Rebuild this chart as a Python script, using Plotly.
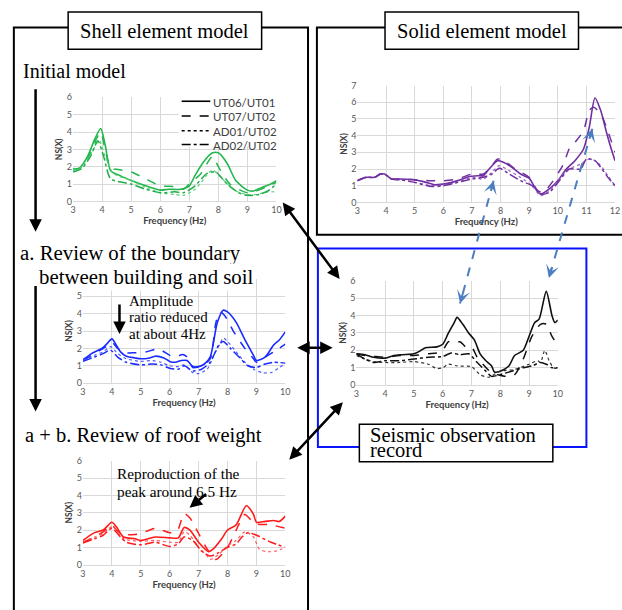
import plotly.graph_objects as go

# ---------------- data ----------------
series_names = ["UT06/UT01", "UT07/UT02", "AD01/UT02", "AD02/UT02"]

# Initial model (shell, green)
g_f1 = [3,3.2,3.5,3.75,3.95,4.1,4.3,4.6,5,5.5,6,6.3,6.7,7,7.2,7.5,7.8,8,8.3,8.6,9,9.2,9.5,9.8,10]
g_y1 = [1.9,1.9,2.6,3.6,4.2,3.3,1.75,1.5,1.2,0.9,0.65,0.7,0.7,0.9,1.5,2.3,2.8,2.8,2.2,1.2,0.65,0.6,0.8,1.0,1.2]
g_f2 = [3,3.3,3.6,3.8,3.95,4.1,4.3,4.5,5,5.5,6,6.5,6.8,7,7.4,7.8,8,8.4,9,9.3,9.6,10]
g_y2 = [1.8,2.0,2.8,3.6,4.0,3.0,1.9,1.85,1.7,1.3,0.9,0.85,0.7,1.0,1.6,2.6,2.0,1.0,0.5,0.6,0.8,1.1]
g_f3 = [3,3.3,3.6,3.9,4.1,4.4,5,5.5,6,6.5,6.8,7.2,7.6,7.8,8.2,8.6,9,9.3,9.7,10]
g_y3 = [1.8,2.0,2.7,3.5,2.6,1.6,1.2,0.8,0.5,0.4,0.35,0.7,1.5,1.8,1.2,0.6,0.4,0.4,0.55,0.55]
g_f4 = [3,3.3,3.6,3.85,4.05,4.3,5,5.5,6,6.5,6.8,7.2,7.6,7.9,8.3,8.7,9,9.4,9.7,10]
g_y4 = [1.7,1.9,2.6,3.5,2.6,1.3,1.0,0.7,0.5,0.55,0.5,0.9,1.6,1.7,1.0,0.5,0.35,0.4,0.6,1.0]

# Solid element model (purple)
p_f1 = [3,3.3,3.6,3.8,3.95,4.2,4.5,5,5.4,5.7,6,6.3,6.6,6.9,7.2,7.4,7.6,7.9,8.1,8.4,8.7,9,9.2,9.4,9.7,10,10.3,10.6,10.9,11.1,11.3,11.5,11.7,11.85,12]
p_y1 = [1.3,1.5,1.5,1.7,1.7,1.4,1.4,1.35,1.2,1.05,1.1,1.2,1.35,1.55,1.6,1.6,2.0,2.5,2.4,2.1,1.7,1.45,0.9,0.5,0.8,1.3,2.0,2.5,3.2,4.5,6.25,5.5,4.2,3.3,2.5]
p_f2 = [3,3.3,3.6,3.8,3.95,4.2,4.5,5,5.5,6,6.5,7,7.4,7.7,7.9,8.2,8.5,9,9.3,9.5,9.8,10.2,10.4,10.6,10.9,11.1,11.25,11.5,11.7,12]
p_y2 = [1.3,1.5,1.5,1.7,1.7,1.4,1.4,1.35,1.3,1.3,1.4,1.7,1.7,2.2,2.6,2.4,2.0,1.5,0.7,0.6,1.2,2.3,3.2,3.6,4.3,5.5,5.7,5.3,4.5,3.0]
p_f3 = [3,3.3,3.6,3.8,3.95,4.2,4.5,5,5.6,6,6.5,7,7.4,7.7,7.95,8.3,8.7,9.1,9.4,9.7,10.1,10.4,10.8,11.1,11.3,11.5,11.75,12]
p_y3 = [1.3,1.5,1.5,1.7,1.7,1.4,1.35,1.2,1.0,1.05,1.2,1.5,1.4,1.8,2.2,1.9,1.5,1.0,0.4,0.7,1.5,2.0,2.3,2.6,2.5,2.2,1.6,1.0]
p_f4 = [3,3.3,3.6,3.8,3.95,4.2,4.5,5,5.6,6,6.5,7,7.4,7.7,7.95,8.3,8.7,9.1,9.4,9.7,10.1,10.4,10.8,11.0,11.3,11.5,11.75,12]
p_y4 = [1.3,1.5,1.5,1.7,1.7,1.4,1.35,1.2,0.95,1.0,1.2,1.4,1.5,1.7,2.05,1.7,1.3,1.0,0.5,0.6,1.4,2.0,2.0,2.6,2.5,2.1,1.5,1.0]

# a. Review of boundary (blue)
b_f1 = [3,3.3,3.6,3.7,3.85,4.0,4.15,4.3,4.5,4.8,5.0,5.3,5.5,5.8,6.0,6.2,6.4,6.6,6.8,7.0,7.2,7.4,7.65,7.85,8.0,8.3,8.6,8.9,9.0,9.3,9.6,9.8,10]
b_y1 = [1.35,1.7,1.95,2.05,2.3,2.55,2.2,1.8,1.55,1.45,1.4,1.45,1.55,1.45,1.25,1.2,1.3,1.3,0.95,0.95,1.1,1.5,3.5,4.2,4.1,3.5,2.5,1.6,1.3,1.5,2.2,2.5,2.95]
b_f2 = [3,3.3,3.6,3.9,4.0,4.2,4.4,4.8,5.2,5.5,5.7,6.0,6.2,6.45,6.6,6.8,7.1,7.4,7.6,7.75,7.9,8.2,8.6,8.9,9.0,9.3,9.6,10]
b_y2 = [1.3,1.6,1.9,2.2,2.35,2.0,1.75,1.75,1.8,1.95,1.9,1.6,1.5,1.65,1.5,0.9,1.0,1.4,3.5,4.1,3.9,3.0,2.0,1.4,1.2,1.5,1.8,2.25]
b_f3 = [3,3.4,3.7,3.95,4.2,4.5,5.0,5.4,5.7,6.0,6.3,6.5,6.8,7.0,7.3,7.5,7.75,7.85,8.0,8.3,8.6,8.9,9.2,9.5,9.8,10]
b_y3 = [1.3,1.6,1.8,2.1,1.7,1.4,1.25,1.3,1.2,1.0,0.95,1.05,0.6,0.55,0.8,1.5,2.3,2.6,2.4,1.8,1.2,0.8,0.6,0.6,0.9,1.15]
b_f4 = [3,3.4,3.7,3.95,4.2,4.5,5.0,5.4,5.7,6.0,6.3,6.5,6.8,7.1,7.4,7.7,7.85,8.1,8.4,8.7,9.0,9.3,9.6,10]
b_y4 = [1.25,1.5,1.7,1.9,1.5,1.2,1.05,1.1,1.05,0.85,0.8,1.0,0.7,0.8,1.2,2.2,2.4,2.0,1.5,1.0,0.9,1.1,1.2,1.15]

# Seismic observation record (black)
k_f1 = [3,3.3,3.6,4.0,4.3,4.6,5.0,5.2,5.4,5.8,6.0,6.2,6.4,6.5,6.7,6.9,7.1,7.3,7.5,7.7,7.8,8.0,8.3,8.5,8.8,9.0,9.2,9.35,9.6,9.8,9.9,10]
k_y1 = [1.8,1.75,1.6,1.55,1.7,1.75,1.8,1.95,2.15,2.2,2.35,3.0,3.6,3.9,3.5,3.0,2.6,1.8,1.4,1.1,0.75,0.8,1.1,1.7,2.0,2.8,3.6,3.8,5.4,4.0,3.6,3.75]
k_f2 = [3,3.3,3.6,4.0,4.5,5.0,5.5,5.8,6.0,6.2,6.4,6.6,6.8,7.0,7.2,7.4,7.7,7.9,8.2,8.5,8.8,9.1,9.4,9.6,9.8,10]
k_y2 = [1.8,1.7,1.65,1.6,1.7,1.7,1.8,1.85,2.0,2.5,2.4,2.5,2.2,2.2,1.6,1.2,0.7,0.6,0.5,0.6,1.5,2.8,3.5,3.5,2.8,2.3]
k_f3 = [3,3.3,3.6,4.0,4.5,5.0,5.5,5.8,6.0,6.2,6.5,7.0,7.3,7.6,8.0,8.5,9.0,9.3,9.4,9.55,9.7,9.85,10]
k_y3 = [1.7,1.5,1.35,1.3,1.3,1.35,1.2,0.95,1.0,1.2,1.1,1.05,0.6,0.45,0.8,0.9,1.2,1.4,1.3,2.0,1.4,1.0,0.95]
k_f4 = [3,3.3,3.6,4.0,4.5,5.0,5.5,6.0,6.3,6.6,6.9,7.2,7.5,7.7,8.0,8.4,8.8,9.1,9.4,9.6,9.8,10]
k_y4 = [1.8,1.5,1.3,1.4,1.4,1.5,1.6,1.65,1.85,1.75,1.8,1.3,0.8,0.5,0.6,0.8,1.0,1.1,1.3,1.2,1.0,1.0]

# a + b. Review of roof weight (red)
r_f1 = [3,3.4,3.7,4.0,4.15,4.4,4.8,5.0,5.5,6.0,6.3,6.5,6.7,7.0,7.35,7.5,7.8,8.0,8.3,8.65,8.9,9.0,9.3,9.6,9.8,10]
r_y1 = [1.4,1.85,2.0,2.45,2.2,1.6,1.5,1.4,1.6,1.55,1.55,2.15,2.0,1.3,0.75,0.9,1.5,2.0,2.3,3.4,2.9,2.45,2.5,2.55,2.5,2.8]
r_f2 = [3,3.4,3.7,4.0,4.15,4.4,4.8,5.0,5.5,6.0,6.25,6.5,6.7,7.0,7.3,7.5,7.6,8.0,8.3,8.6,8.8,9.0,9.5,10]
r_y2 = [1.3,1.6,1.9,2.3,2.0,1.75,1.75,1.8,2.1,1.85,1.9,2.95,2.7,1.8,0.9,0.5,0.3,1.0,2.0,2.9,2.6,2.35,2.3,2.1]
r_f3 = [3,3.4,3.7,4.0,4.2,4.4,5.0,5.5,6.0,6.3,6.5,6.7,7.0,7.3,7.4,7.7,8.0,8.3,8.6,8.9,9.1,9.4,9.7,10]
r_y3 = [1.3,1.6,1.8,2.2,1.9,1.5,1.35,1.4,1.3,1.3,1.9,1.7,1.0,0.5,0.3,0.6,1.1,1.4,1.9,1.6,0.9,0.75,0.8,1.0]
r_f4 = [3,3.4,3.7,4.0,4.3,4.5,5.0,5.5,6.0,6.3,6.5,6.8,7.1,7.4,7.7,8.0,8.3,8.5,8.7,9.0,9.5,10]
r_y4 = [1.25,1.5,1.7,2.1,1.6,1.3,1.15,1.3,1.05,1.2,1.6,1.4,0.8,0.5,0.7,1.0,1.2,1.6,1.85,1.7,1.3,1.0]

x_ticks_10 = [3, 4, 5, 6, 7, 8, 9, 10]
x_ticks_12 = [3, 4, 5, 6, 7, 8, 9, 10, 11, 12]

# ---------------- helpers ----------------
W, H = 622, 610
def X(p): return p / W
def Y(p): return 1 - p / H

dashes = ["solid", "dash", "dot", "dashdot"]
widths = [1.6, 1.5, 1.2, 1.5]

charts = [
    dict(ax="", data=[(g_f1, g_y1), (g_f2, g_y2), (g_f3, g_y3), (g_f4, g_y4)],
         colors=["#22b74e", "#22b74e", "#55d476", "#22ad4b"],
         dom=((71, 277), (93, 199)), xr=(3, 10), yr=(0, 6), xt=x_ticks_10),
    dict(ax="2", data=[(p_f1, p_y1), (p_f2, p_y2), (p_f3, p_y3), (p_f4, p_y4)],
         colors=["#7030a0", "#7030a0", "#9a5cc8", "#7030a0"],
         dom=((359, 620), (81, 200)), xr=(3, 12), yr=(0, 7), xt=x_ticks_12),
    dict(ax="3", data=[(b_f1, b_y1), (b_f2, b_y2), (b_f3, b_y3), (b_f4, b_y4)],
         colors=["#1a2bff", "#1a2bff", "#4a5cff", "#1a2bff"],
         dom=((81, 286), (278, 384)), xr=(3, 10), yr=(0, 6), xt=x_ticks_10),
    dict(ax="4", data=[(k_f1, k_y1), (k_f2, k_y2), (k_f3, k_y3), (k_f4, k_y4)],
         colors=["#111111", "#111111", "#333333", "#111111"],
         dom=((358, 562), (280, 386)), xr=(3, 10), yr=(0, 6), xt=x_ticks_10),
    dict(ax="5", data=[(r_f1, r_y1), (r_f2, r_y2), (r_f3, r_y3), (r_f4, r_y4)],
         colors=["#ff1a1a", "#ff1a1a", "#ff5a5a", "#ff1a1a"],
         dom=((81, 286), (463, 569)), xr=(3, 10), yr=(0, 6), xt=x_ticks_10),
]

fig = go.Figure()
tick_font = dict(family="Lato, Open Sans, sans-serif", size=9, color="#595959")
title_font = dict(family="Lato, Open Sans, sans-serif", size=9.5, color="#404040")

for c in charts:
    for i, (fx, fy) in enumerate(c["data"]):
        fig.add_trace(go.Scatter(
            x=fx, y=fy, mode="lines", name=series_names[i], showlegend=False,
            line=dict(color=c["colors"][i], dash=dashes[i], width=widths[i],
                      shape="spline", smoothing=0.7),
            xaxis="x" + c["ax"], yaxis="y" + c["ax"]))
    (x0, x1), (y0, y1) = c["dom"]
    fig.update_layout(**{
        "xaxis" + c["ax"]: dict(
            domain=[X(x0), X(x1)], range=list(c["xr"]), tickvals=c["xt"],
            showgrid=True, gridcolor="#d9d9d9", gridwidth=1, zeroline=False,
            showline=True, linecolor="#d9d9d9", ticks="", tickfont=tick_font,
            title=dict(text="<b>Frequency (Hz)</b>", font=title_font, standoff=0),
            anchor="y" + c["ax"], fixedrange=True),
        "yaxis" + c["ax"]: dict(
            domain=[Y(y1), Y(y0)], range=list(c["yr"]), dtick=1,
            showgrid=True, gridcolor="#d9d9d9", gridwidth=1, zeroline=False,
            showline=False, ticks="", tickfont=tick_font,
            title=dict(text="<b>NS(X)</b>", font=dict(family=title_font["family"], size=8.5, color="#404040"), standoff=2),
            anchor="x" + c["ax"], fixedrange=True),
    })

shapes = []
def rect(x0, y0, x1, y1, color="black", width=2, fill=None):
    shapes.append(dict(type="rect", xref="paper", yref="paper",
                       x0=X(x0), x1=X(x1), y0=Y(y1), y1=Y(y0),
                       line=dict(color=color, width=width),
                       fillcolor=fill if fill else "rgba(0,0,0,0)"))

# outer boxes
rect(11, 22, 309, 640, width=2)
rect(318, 22, 640, 233, width=2)
rect(319, 247, 591, 449, color="#0a14ff", width=2)
# title boxes
rect(66, 6, 262, 44, width=1.5, fill="white")
rect(387, 6, 583, 44, width=1.5, fill="white")
rect(361, 426, 557, 464, width=1.5, fill="white")

# legend (green chart)
rect(178, 84, 282, 143, width=0, fill="white")
legend_y = [98, 113, 128, 142]
for i, yy in enumerate(legend_y):
    shapes.append(dict(type="line", xref="paper", yref="paper",
                       x0=X(181), x1=X(210), y0=Y(yy - 1), y1=Y(yy - 1),
                       line=dict(color="black", width=1.6 if i == 0 else 1.4, dash=dashes[i])))

# blue dashed link lines
blue = "#4a7ec0"
links = [((497, 178), (463, 303)), ((597, 125), (553, 277))]
for (ax_, ay_), (bx_, by_) in links:
    shapes.append(dict(type="line", xref="paper", yref="paper",
                       x0=X(ax_), y0=Y(ay_), x1=X(bx_), y1=Y(by_),
                       line=dict(color=blue, width=2, dash="dash")))

fig.update_layout(shapes=shapes)

ann = []
serif = "Liberation Serif, Times New Roman, serif"
def text(t, x, y, size, anchor="left", bg=None):
    d = dict(text=t, xref="paper", yref="paper", x=X(x), y=Y(y),
             xanchor=anchor, yanchor="middle", showarrow=False,
             font=dict(family=serif, size=size, color="black"))
    if bg:
        d["bgcolor"] = bg
    ann.append(d)

text("Shell element model", 164, 25, 20.5, anchor="center")
text("Solid element model", 485, 25, 20.5, anchor="center")
text("Initial model", 18, 66, 20)
text("a. Review of the boundary", 15, 252, 20.8)
text("between building and soil", 34, 276, 20.8, bg="white")
text("Amplitude", 126, 300, 15)
text("ratio reduced", 126, 317, 15)
text("at about 4Hz", 126, 334, 15)
text("a + b. Review of roof weight", 20, 437, 20.5)
text("Reproduction of the", 113, 476, 15.3)
text("peak around 6.5 Hz", 113, 494, 15.3)
text("Seismic observation", 370, 437, 20.5)
text("record", 370, 452, 20.5)

for i, yy in enumerate(legend_y):
    ann.append(dict(text=series_names[i], xref="paper", yref="paper", x=X(211), y=Y(yy),
                    xanchor="left", yanchor="middle", showarrow=False,
                    font=dict(family="Lato, Open Sans, sans-serif", size=11.5, color="#404040")))

def arrow(tail, head, both=False, color="black", width=2.5, size=1.0, hd=2):
    ann.append(dict(text="", xref="paper", yref="paper", x=X(head[0]), y=Y(head[1]),
                    ax=tail[0] - head[0], ay=tail[1] - head[1], axref="pixel", ayref="pixel",
                    showarrow=True, arrowhead=hd, arrowsize=size, arrowwidth=width,
                    arrowcolor=color, arrowside="end+start" if both else "end",
                    startarrowhead=hd, startarrowsize=size))

arrow((33, 86), (33, 230))
arrow((33, 286), (33, 413))
arrow((118, 303), (118, 334))
arrow((207, 496), (189, 511))
arrow((283, 200), (341, 278), both=True)
arrow((297, 348), (334, 348), both=True)
arrow((345, 403), (290, 462), both=True)
# blue arrow heads
for (ax_, ay_), (bx_, by_) in links:
    dx, dy = bx_ - ax_, by_ - ay_
    L = (dx * dx + dy * dy) ** 0.5
    ux, uy = dx / L, dy / L
    arrow((ax_ + ux * 12, ay_ + uy * 12), (ax_, ay_), color=blue, width=2, size=1.1, hd=3)
    arrow((bx_ - ux * 12, by_ - uy * 12), (bx_, by_), color=blue, width=2, size=1.1, hd=3)

fig.update_layout(annotations=ann, width=W, height=H,
                  margin=dict(l=0, r=0, t=0, b=0),
                  paper_bgcolor="white", plot_bgcolor="white", showlegend=False)

fig.write_html("out.html", config={"displayModeBar": False},
               post_script="document.body.style.margin='0';document.body.style.overflow='hidden';")
